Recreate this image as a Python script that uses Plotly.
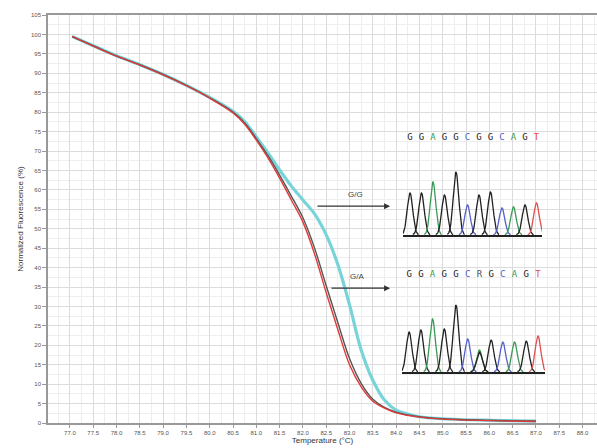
import numpy as np
import plotly.graph_objects as go

# ---------------- data ----------------
temp_red = [77.05, 77.5, 78.0, 78.5, 79.0, 79.5, 80.0, 80.5, 80.75, 81.0, 81.25, 81.5, 81.75,
            82.0, 82.25, 82.5, 82.75, 83.0, 83.25, 83.5, 83.75, 84.0, 84.5, 85.0, 86.0, 87.0]
fluor_red = [99.5, 97.0, 94.4, 92.1, 89.6, 86.8, 83.6, 79.8, 76.9, 72.8, 68.2, 63.0, 57.4,
             51.7, 43.5, 33.5, 24.0, 15.0, 9.3, 5.6, 3.8, 2.6, 1.5, 1.0, 0.6, 0.4]
temp_gray = [77.05, 77.5, 78.0, 78.5, 79.0, 79.5, 80.0, 80.5, 80.75, 81.0, 81.25, 81.5, 81.75,
             82.0, 82.25, 82.5, 82.75, 83.0, 83.25, 83.5, 83.75, 84.0, 84.5, 85.0, 86.0, 87.0]
fluor_gray = [99.4, 97.1, 94.5, 92.2, 89.7, 86.9, 83.7, 80.0, 77.2, 73.2, 68.8, 63.8, 58.4,
              52.8, 45.0, 35.3, 25.8, 16.6, 10.2, 6.1, 4.0, 2.8, 1.6, 1.1, 0.7, 0.5]
temp_cyan = [77.05, 77.5, 78.0, 78.5, 79.0, 79.5, 80.0, 80.5, 80.75, 81.0, 81.25, 81.5, 81.75,
             82.0, 82.25, 82.5, 82.75, 83.0, 83.25, 83.5, 83.75, 84.0, 84.25, 84.5, 85.0, 86.0, 87.0]
fluor_cyan = [99.5, 97.1, 94.5, 92.2, 89.7, 86.9, 83.8, 80.2, 77.6, 73.6, 69.5, 65.1, 61.0,
              57.4, 53.8, 48.4, 40.7, 30.4, 18.8, 11.0, 5.9, 3.3, 2.3, 1.6, 1.1, 0.7, 0.5]

x_ticks = [77.0 + 0.5 * i for i in range(23)]
x_ticklabels = ["%.1f" % v for v in x_ticks]
y_ticks = list(range(0, 106, 5))

# chromatogram 1 (G/G)
seq1 = list("GGAGGCGGCAGT")
peak_pos1 = [1, 2, 3, 4, 5, 6, 7, 8, 9, 10, 11, 12]
peak_h1 = [42, 42, 53, 40, 63, 30, 40, 43, 27, 28, 30, 32]
peak_base1 = ["G", "G", "A", "G", "G", "C", "G", "G", "C", "A", "G", "T"]
# chromatogram 2 (G/A)
seq2 = list("GGAGGCRGCAGT")
peak_pos2 = [1, 2, 3, 4, 5, 6, 7, 7, 8, 9, 10, 11, 12]
peak_h2 = [40, 42, 53, 43, 67, 33, 22, 20, 32, 30, 30, 31, 36]
peak_base2 = ["G", "G", "A", "G", "G", "C", "A", "G", "G", "C", "A", "G", "T"]

base_colors = {"G": "#222222", "A": "#3a9a55", "C": "#5560c8", "T": "#e05050", "R": "#555555"}

fig = go.Figure()

curve_font = "Liberation Sans"
fig.add_trace(go.Scatter(x=temp_cyan, y=fluor_cyan, mode="lines", line=dict(color="#78d4d8", width=3.2, shape="spline"), showlegend=False))
fig.add_trace(go.Scatter(x=temp_gray, y=fluor_gray, mode="lines", line=dict(color="#555555", width=1.4, shape="spline"), showlegend=False))
fig.add_trace(go.Scatter(x=temp_red, y=fluor_red, mode="lines", line=dict(color="#e03a3a", width=1.4, shape="spline"), showlegend=False))


def add_chrom(seq, pos, heights, bases, xa, ya):
    for p, h, b in zip(pos, heights, bases):
        xs = np.linspace(p - 0.75, p + 0.75, 51)
        ys = h * np.exp(-((xs - p) / 0.34) ** 2)
        fig.add_trace(go.Scatter(x=xs, y=ys, mode="lines", xaxis=xa, yaxis=ya,
                                 line=dict(color=base_colors[b], width=1.3), showlegend=False,
                                 hoverinfo="skip"))
    fig.add_trace(go.Scatter(x=list(range(1, len(seq) + 1)), y=[97] * len(seq), mode="text",
                             text=seq, xaxis=xa, yaxis=ya,
                             textfont=dict(family="DejaVu Sans Mono", size=9,
                                           color=[base_colors[s] for s in seq]),
                             showlegend=False))


add_chrom(seq1, peak_pos1, peak_h1, peak_base1, "x2", "y2")
add_chrom(seq2, peak_pos2, peak_h2, peak_base2, "x3", "y3")

# arrows and labels
ann = [
    dict(x=83.87, y=55.8, ax=82.28, ay=55.8, xref="x", yref="y", axref="x", ayref="y",
         showarrow=True, arrowhead=2, arrowsize=1, arrowwidth=1.2, arrowcolor="#333", text=""),
    dict(x=83.87, y=34.7, ax=82.58, ay=34.7, xref="x", yref="y", axref="x", ayref="y",
         showarrow=True, arrowhead=2, arrowsize=1, arrowwidth=1.2, arrowcolor="#333", text=""),
    dict(x=83.12, y=58.9, xref="x", yref="y", text="G/G", showarrow=False,
         font=dict(size=8, color="#444", family=curve_font)),
    dict(x=83.15, y=37.6, xref="x", yref="y", text="G/A", showarrow=False,
         font=dict(size=8, color="#444", family=curve_font)),
]

inset_common = dict(showgrid=False, zeroline=False, showticklabels=False, ticks="")
fig.update_layout(
    width=597, height=448,
    margin=dict(l=48, r=0, t=15, b=25),
    plot_bgcolor="rgba(0,0,0,0)", paper_bgcolor="white",
    font=dict(family=curve_font, size=6, color="#444"),
    annotations=ann,
    xaxis=dict(range=[76.53, 88.31], tickmode="array", tickvals=x_ticks, ticktext=x_ticklabels,
               showgrid=True, gridcolor="#dcdcdc", gridwidth=1,
               minor=dict(dtick=0.25, tick0=77.0, showgrid=True, gridcolor="#eeeeee"),
               showline=True, linecolor="#999", linewidth=1.5, mirror=True,
               ticks="outside", ticklen=3, tickcolor="#999", zeroline=False,
               tickfont=dict(size=6, color="#555"),
               title=dict(text="Temperature (°C)", font=dict(size=8, color="#333"), standoff=2)),
    yaxis=dict(range=[0, 105], tickmode="array", tickvals=y_ticks,
               showgrid=True, gridcolor="#dcdcdc", gridwidth=1,
               minor=dict(dtick=2.5, tick0=0, showgrid=True, gridcolor="#eeeeee"),
               showline=True, linecolor="#999", linewidth=1.5,
               ticks="outside", ticklen=4, tickcolor="#999", zeroline=False,
               tickfont=dict(size=6, color="#555"),
               title=dict(text="Normalized Fluorescence (%)", font=dict(size=8, color="#333"), standoff=6)),
    xaxis2=dict(domain=[0.6466, 0.8998], range=[0.39, 12.48], anchor="y2",
                showline=True, linecolor="#222", linewidth=1.5, **inset_common),
    yaxis2=dict(domain=[0.461, 0.723], range=[0, 107], anchor="x2", showline=False, **inset_common),
    xaxis3=dict(domain=[0.6448, 0.9053], range=[0.39, 12.6], anchor="y3",
                showline=True, linecolor="#222", linewidth=1.5, **inset_common),
    yaxis3=dict(domain=[0.125, 0.387], range=[0, 107], anchor="x3", showline=False, **inset_common),
)

fig.write_html("out.html")
